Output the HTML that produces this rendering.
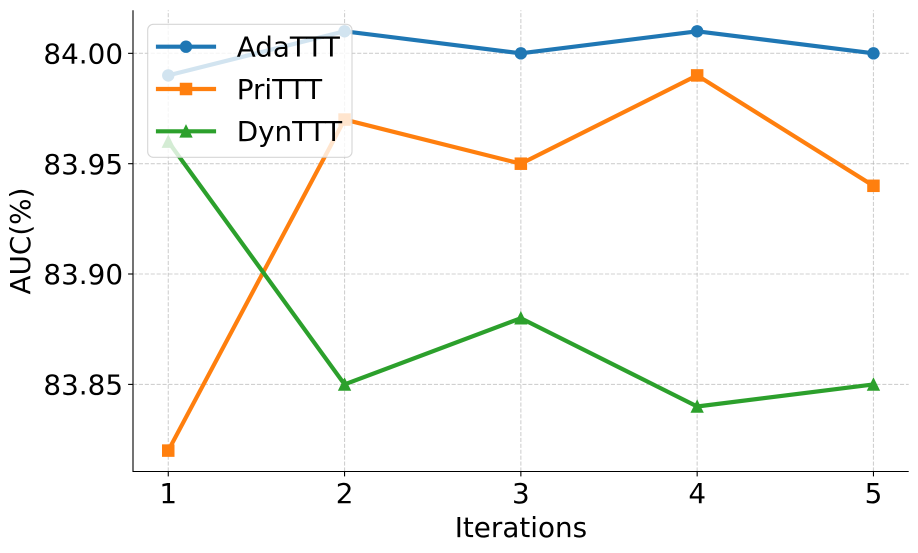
<!DOCTYPE html>
<html>
<head>
<meta charset="utf-8">
<style>
  html, body { margin: 0; padding: 0; background: #ffffff; }
  svg { display: block; }
  text { font-family: "DejaVu Sans", "Liberation Sans", sans-serif; fill: #000; }
</style>
</head>
<body>
<svg width="918" height="553" viewBox="0 0 918 553" xmlns="http://www.w3.org/2000/svg">
  <rect x="0" y="0" width="918" height="553" fill="#ffffff"/>

  <!-- grid -->
  <g stroke="#b0b0b0" stroke-opacity="0.6" stroke-width="1.1" stroke-dasharray="4.1,1.8" fill="none">
    <line x1="133" y1="53.34" x2="908.7" y2="53.34"/>
    <line x1="133" y1="163.7" x2="908.7" y2="163.7"/>
    <line x1="133" y1="274.0" x2="908.7" y2="274.0"/>
    <line x1="133" y1="384.4" x2="908.7" y2="384.4"/>
    <line x1="168.26" y1="471.5" x2="168.26" y2="10.3"/>
    <line x1="344.56" y1="471.5" x2="344.56" y2="10.3"/>
    <line x1="520.86" y1="471.5" x2="520.86" y2="10.3"/>
    <line x1="697.16" y1="471.5" x2="697.16" y2="10.3"/>
    <line x1="873.46" y1="471.5" x2="873.46" y2="10.3"/>
  </g>

  <!-- AdaTTT -->
  <g>
    <polyline points="168.26,75.41 344.56,31.27 520.86,53.34 697.16,31.27 873.46,53.34" fill="none" stroke="#1f77b4" stroke-width="4.17" stroke-linejoin="round"/>
    <g fill="#1f77b4">
      <circle cx="168.26" cy="75.41" r="6.2"/>
      <circle cx="344.56" cy="31.27" r="6.2"/>
      <circle cx="520.86" cy="53.34" r="6.2"/>
      <circle cx="697.16" cy="31.27" r="6.2"/>
      <circle cx="873.46" cy="53.34" r="6.2"/>
    </g>
  </g>

  <!-- PriTTT -->
  <g>
    <polyline points="168.26,450.6 344.56,119.55 520.86,163.7 697.16,75.41 873.46,185.8" fill="none" stroke="#ff7f0e" stroke-width="4.17" stroke-linejoin="round"/>
    <g fill="#ff7f0e">
      <rect x="162.0" y="444.35" width="12.5" height="12.5"/>
      <rect x="338.31" y="113.3" width="12.5" height="12.5"/>
      <rect x="514.61" y="157.45" width="12.5" height="12.5"/>
      <rect x="690.91" y="69.16" width="12.5" height="12.5"/>
      <rect x="867.21" y="179.55" width="12.5" height="12.5"/>
    </g>
  </g>

  <!-- DynTTT -->
  <g>
    <polyline points="168.26,141.6 344.56,384.4 520.86,318.2 697.16,406.5 873.46,384.4" fill="none" stroke="#2ca02c" stroke-width="4.17" stroke-linejoin="round"/>
    <g fill="#2ca02c" stroke="#2ca02c" stroke-width="1.4" stroke-linejoin="miter">
      <polygon points="168.26,136.0 162.7,147.2 173.8,147.2"/>
      <polygon points="344.56,378.8 339.0,390.0 350.1,390.0"/>
      <polygon points="520.86,312.6 515.3,323.8 526.4,323.8"/>
      <polygon points="697.16,400.9 691.6,412.1 702.7,412.1"/>
      <polygon points="873.46,378.8 867.9,390.0 879.0,390.0"/>
    </g>
  </g>

  <!-- spines -->
  <g stroke="#000" stroke-width="1.1" fill="none">
    <line x1="133" y1="10.3" x2="133" y2="472"/>
    <line x1="132.5" y1="471.5" x2="908.7" y2="471.5"/>
    <!-- y ticks -->
    <line x1="128.1" y1="53.34" x2="133" y2="53.34"/>
    <line x1="128.1" y1="163.7" x2="133" y2="163.7"/>
    <line x1="128.1" y1="274.0" x2="133" y2="274.0"/>
    <line x1="128.1" y1="384.4" x2="133" y2="384.4"/>
    <!-- x ticks -->
    <line x1="168.26" y1="471.5" x2="168.26" y2="476.4"/>
    <line x1="344.56" y1="471.5" x2="344.56" y2="476.4"/>
    <line x1="520.86" y1="471.5" x2="520.86" y2="476.4"/>
    <line x1="697.16" y1="471.5" x2="697.16" y2="476.4"/>
    <line x1="873.46" y1="471.5" x2="873.46" y2="476.4"/>
  </g>

  <!-- y tick labels -->
  <g font-size="27.8" text-anchor="end">
    <text x="123" y="63.4">84.00</text>
    <text x="123" y="173.8">83.95</text>
    <text x="123" y="284.1">83.90</text>
    <text x="123" y="394.5">83.85</text>
  </g>

  <!-- x tick labels -->
  <g font-size="27.8" text-anchor="middle">
    <text x="168.26" y="503">1</text>
    <text x="344.56" y="503">2</text>
    <text x="520.86" y="503">3</text>
    <text x="697.16" y="503">4</text>
    <text x="873.46" y="503">5</text>
  </g>

  <!-- axis labels -->
  <text x="520.9" y="537" font-size="27.8" text-anchor="middle">Iterations</text>
  <text transform="translate(30,241) rotate(-90)" font-size="27.8" text-anchor="middle">AUC(%)</text>

  <!-- legend -->
  <rect x="147.7" y="24.3" width="204.3" height="133" rx="5.6" ry="5.6" fill="#ffffff" fill-opacity="0.8" stroke="#cccccc" stroke-opacity="0.8" stroke-width="1.1"/>
  <g stroke-width="4.17" stroke-linecap="square">
    <line x1="158" y1="46.7" x2="214" y2="46.7" stroke="#1f77b4"/>
    <line x1="158" y1="89" x2="214" y2="89" stroke="#ff7f0e"/>
    <line x1="158" y1="131.3" x2="214" y2="131.3" stroke="#2ca02c"/>
  </g>
  <circle cx="186" cy="46.7" r="6.2" fill="#1f77b4"/>
  <rect x="179.75" y="82.75" width="12.5" height="12.5" fill="#ff7f0e"/>
  <polygon points="186,125.7 180.44,136.9 191.56,136.9" fill="#2ca02c" stroke="#2ca02c" stroke-width="1.4"/>
  <g font-size="27.8">
    <text x="236.7" y="56.6">AdaTTT</text>
    <text x="236.7" y="98.9">PriTTT</text>
    <text x="236.7" y="141.2">DynTTT</text>
  </g>
</svg>
</body>
</html>
